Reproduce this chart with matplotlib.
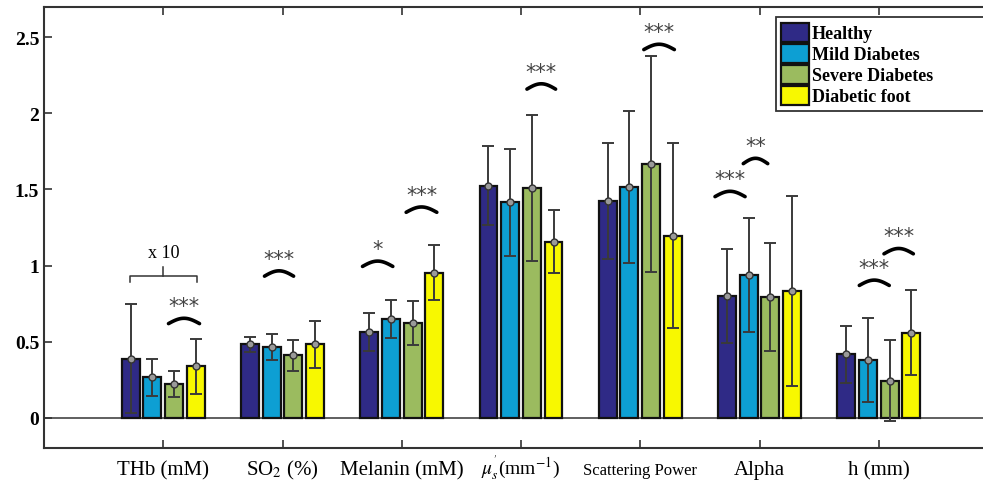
import numpy as np
import matplotlib
matplotlib.use("Agg")
import matplotlib.pyplot as plt

plt.rcParams['font.family'] = ['Liberation Serif', 'DejaVu Serif']
plt.rcParams['mathtext.fontset'] = 'stix'

categories = ["THb (mM)", "SO$_2$ (%)", "Melanin (mM)", r"$\mu_s^{'}$(mm$^{-1}$)",
              "Scattering Power", "Alpha", "h (mm)"]
groups = ["Healthy", "Mild Diabetes", "Severe Diabetes", "Diabetic foot"]
colors = ["#2f2a86", "#0d9fd3", "#9bbb5f", "#f8f800"]

healthy = [0.387, 0.481, 0.560, 1.524, 1.426, 0.798, 0.416]
mild = [0.265, 0.464, 0.647, 1.415, 1.514, 0.938, 0.376]
severe = [0.219, 0.409, 0.621, 1.509, 1.665, 0.792, 0.241]
foot = [0.337, 0.481, 0.953, 1.157, 1.196, 0.831, 0.558]

healthy_err = [0.36, 0.050, 0.125, 0.26, 0.38, 0.31, 0.186]
mild_err = [0.12, 0.087, 0.123, 0.353, 0.50, 0.372, 0.276]
severe_err = [0.085, 0.10, 0.143, 0.48, 0.71, 0.355, 0.266]
foot_err = [0.18, 0.156, 0.182, 0.208, 0.61, 0.625, 0.28]

# significance arcs: (x start, x end, y, label)
sig_x0 = [1.044, 1.849, 2.671, 3.037, 4.05, 5.03, 5.627, 5.864, 6.837, 7.044]
sig_x1 = [1.304, 2.093, 2.925, 3.294, 4.29, 5.286, 5.879, 6.069, 7.088, 7.29]
sig_y = [0.628, 0.94, 1.004, 1.36, 2.17, 2.43, 1.463, 1.68, 0.879, 1.087]
sig_lab = ["***", "***", "*", "***", "***", "***", "***", "**", "***", "***"]

values = [healthy, mild, severe, foot]
errors = [healthy_err, mild_err, severe_err, foot_err]

fig = plt.figure(figsize=(9.83, 4.85), dpi=100)
ax = fig.add_axes([44 / 983, 36 / 485, 954 / 983, 441 / 485])

x = np.arange(1, len(categories) + 1)
pitch = 0.182
width = 0.15
for i, (vals, errs) in enumerate(zip(values, errors)):
    xs = x + (i - 1.5) * pitch
    ax.bar(xs, vals, width, color=colors[i], edgecolor="#111111", linewidth=1.6,
           label=groups[i], zorder=2)
    ax.errorbar(xs, vals, yerr=errs, fmt='o', color="#3a3a3a", ecolor="#3a3a3a",
                elinewidth=1.4, capsize=4, capthick=1.4, markersize=5,
                markerfacecolor="#9a9a9a", markeredgecolor="#333333", zorder=3)

ax.axhline(0, color="#444444", lw=1.2, zorder=1)

# arcs with stars
for x0, x1, y, lab in zip(sig_x0, sig_x1, sig_y, sig_lab):
    t = np.linspace(0, 1, 40)
    ax.plot(x0 + (x1 - x0) * t, y + 0.035 * np.sin(np.pi * t) - 0.01,
            color="black", lw=2.6, solid_capstyle='round', zorder=4)
    ax.text((x0 + x1) / 2, y + 0.04, lab, ha='center', va='bottom',
            fontsize=15, family='DejaVu Sans', color="#444444")

# "x 10" bracket over THb
bx0, bx1 = 0.72, 1.28
ax.plot([bx0, bx0, bx1, bx1], [0.89, 0.93, 0.93, 0.89], color="#333333", lw=1.1)
ax.plot([1.0, 1.0], [0.93, 0.99], color="#333333", lw=1.1)
ax.text(1.0, 1.03, "x 10", ha='center', va='bottom', fontsize=13)

ax.set_xlim(0, 8)
ax.set_ylim(-0.2, 2.7)
ax.set_xticks(x)
ax.set_xticklabels(categories, fontsize=15, va='baseline')
ax.get_xticklabels()[3].set_fontsize(14)
ax.get_xticklabels()[4].set_fontsize(12)
ax.set_yticks([0, 0.5, 1, 1.5, 2, 2.5])
ax.set_yticklabels(["0", "0.5", "1", "1.5", "2", "2.5"], fontsize=14, fontweight='bold')
ax.tick_params(direction='in', length=6, width=1.2, top=True, right=True,
               color="#333333")
ax.tick_params(axis='x', pad=19)
for s in ax.spines.values():
    s.set_linewidth(1.5)
    s.set_color("#333333")

leg = ax.legend(loc='upper left', bbox_to_anchor=(0.767, 0.5, 0.25, 0.477),
                mode='expand', fancybox=False,
                edgecolor="#333333", framealpha=1, borderpad=0.3,
                labelspacing=0.08, handlelength=1.55, handleheight=1.25,
                handletextpad=0.15, borderaxespad=0,
                prop={'family': 'Liberation Serif', 'weight': 'bold', 'size': 13})
leg.get_frame().set_linewidth(1.3)

fig.savefig("out.png", dpi=100)
